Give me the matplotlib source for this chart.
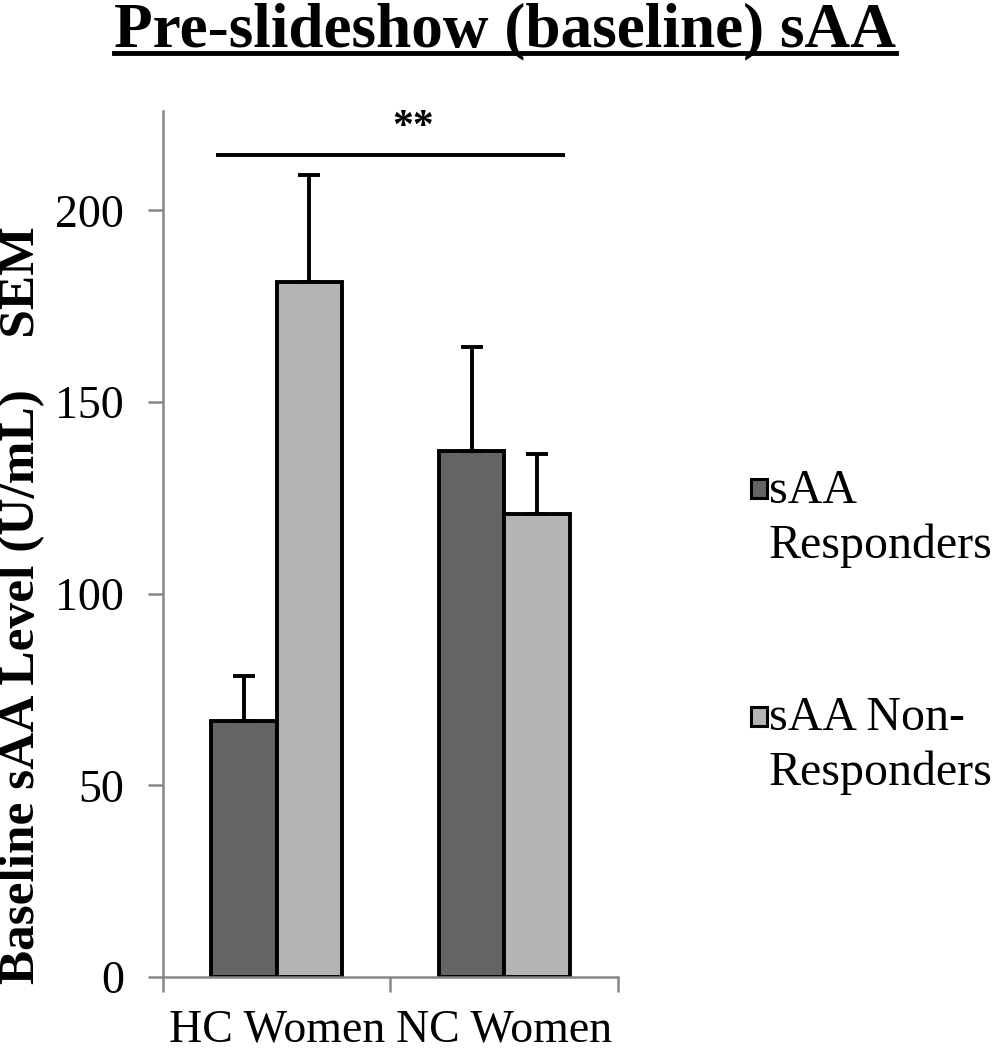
import matplotlib
matplotlib.use("Agg")
import matplotlib.pyplot as plt
from matplotlib.patches import Rectangle
from matplotlib.lines import Line2D
import numpy as np

##############################
# DATA
##############################
groups = ['HC Women', 'NC Women']
series = ['sAA\nResponders', 'sAA Non-\nResponders']
responders = [66.7, 137.1]
responders_sem = [11.8, 27.2]
non_responders = [181.3, 120.7]
non_responders_sem = [28.0, 15.7]
y_ticks = [0, 50, 100, 150, 200]

colors = ['#646464', '#b4b4b4']
axis_grey = '#868686'

plt.rcParams['font.family'] = ['Liberation Serif', 'DejaVu Serif']

fig = plt.figure(figsize=(9.93, 10.5), dpi=100)
ax = fig.add_axes([0.1641, 0.0695, 0.4583, 0.8251])

x = np.arange(len(groups))
width = 0.288

# bars with upper SEM only
for vals, sems, off, col in [(responders, responders_sem, -width / 2, colors[0]),
                             (non_responders, non_responders_sem, width / 2, colors[1])]:
    ax.bar(x + off, vals, width, color=col, edgecolor='black', linewidth=2.8, zorder=2)
    ax.errorbar(x + off, vals, yerr=[np.zeros(len(sems)), sems], fmt='none',
                ecolor='black', elinewidth=2.8, capsize=8, capthick=2.8, zorder=3)

# significance bar
ax.plot([-0.265, 1.265], [214.5, 214.5], color='black', linewidth=2.8,
        solid_capstyle='butt', clip_on=False)
ax.text(0.6, 221.5, '**', ha='center', va='center', fontsize=30, fontweight='bold')

ax.set_xlim(-0.5, 1.5)
ax.set_ylim(0, 226)
ax.set_yticks(y_ticks)
ax.set_xticks(x)
ax.set_xticklabels(groups)
ax.set_xticks([-0.5, 0.5, 1.5], minor=True)

ax.tick_params(axis='y', labelsize=33, length=11, width=1.8, color=axis_grey, pad=17, direction='out')
ax.tick_params(axis='x', which='major', labelsize=33, length=0, pad=23)
ax.tick_params(axis='x', which='minor', length=11, width=1.8, color=axis_grey, direction='out')

for side in ['top', 'right']:
    ax.spines[side].set_visible(False)
for side in ['left', 'bottom']:
    ax.spines[side].set_color(axis_grey)
    ax.spines[side].set_linewidth(1.8)

# y label
fig.text(0.022, 0.424, 'Baseline sAA Level (U/mL)    SEM', rotation=90,
         ha='center', va='center', fontsize=37, fontweight='bold')

# title with underline just below the baseline
title_base = 0.956
fig.text(0.5086, title_base, 'Pre-slideshow (baseline) sAA', ha='center', va='baseline',
         fontsize=45.5, fontweight='bold')
fig.canvas.draw()
bb = fig.texts[-1].get_window_extent().transformed(fig.transFigure.inverted())
fig.add_artist(Line2D([bb.x0, bb.x1], [title_base - 0.006, title_base - 0.006],
                      transform=fig.transFigure, color='black', linewidth=3.5))

# legend drawn by hand so the box sits on the first text line
legend_y = [0.5345, 0.318]
for col, label, ly in zip(colors, series, legend_y):
    fig.add_artist(Rectangle((0.756, ly - 0.009), 0.016, 0.018, transform=fig.transFigure,
                             facecolor=col, edgecolor='black', linewidth=2.2))
    fig.text(0.774, ly + 0.019, label, ha='left', va='top', fontsize=34.5, linespacing=1.3)

fig.savefig('out.png', dpi=100)
